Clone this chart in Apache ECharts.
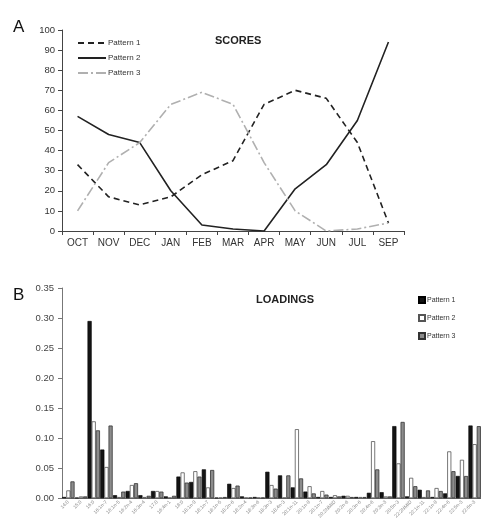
<!DOCTYPE html>
<html><head><meta charset="utf-8">
<script src="https://cdn.jsdelivr.net/npm/echarts@6/dist/echarts.min.js"></script>
<style>html,body{margin:0;padding:0;background:#fff}#c{width:481px;height:521px}</style>
</head><body><div id="c"></div>
<script>
const months = ['OCT','NOV','DEC','JAN','FEB','MAR','APR','MAY','JUN','JUL','SEP'];
const score1 = [33,17,13,17,28,35,63,70,66,44,4];
const score2 = [57,48,44,20,3,1,0,21,33,55,94];
const score3 = [10,34,44,63,69,63,34,10,0,1,4];

const acids = ['14:0','15:0','16:0','16:1n-7','16:1n-5','16:2n-4','16:3n-4','17:0','16:4n-1','18:0','18:1n-9','18:1n-7','18:1n-5','18:2n-6','18:2n-4','18:3n-6','18:3n-3','18:4n-3','20:1n-11','20:1n-9','20:1n-7','20:2NMID','20:2n-6','20:3n-6','20:4n-6','20:3n-3','20:5n-3','22:2NMID','22:1n-11','22:1n-9','22:4n-6','22:5n-3','22:6n-3'];
const load1 = [0.002,0.001,0.295,0.081,0.005,0.012,0.005,0.012,0.003,0.036,0.027,0.048,0.001,0.024,0.003,0.002,0.044,0.038,0.018,0.011,0.002,0.002,0.004,0.002,0.009,0.010,0.120,0.003,0.014,0.002,0.008,0.037,0.121];
const load2 = [0.013,0.003,0.128,0.052,0.002,0.022,0.002,0.012,0.001,0.043,0.045,0.018,0.001,0.017,0.001,0.001,0.022,0.001,0.115,0.020,0.012,0.005,0.004,0.002,0.095,0.003,0.058,0.034,0.002,0.017,0.078,0.064,0.090];
const load3 = [0.028,0.003,0.113,0.121,0.011,0.025,0.004,0.011,0.004,0.026,0.036,0.047,0.002,0.021,0.001,0.001,0.016,0.038,0.033,0.008,0.006,0.003,0.002,0.002,0.048,0.003,0.127,0.020,0.013,0.012,0.045,0.037,0.120];

const chart = echarts.init(document.getElementById('c'));
const FF = 'Liberation Sans, Arial, sans-serif';
const axisTxt = {color:'#333', fontFamily:FF};
chart.setOption({
  animation:false,
  textStyle:{fontFamily:FF},
  title:[
    {text:'A', left:8, top:14, textStyle:{fontSize:17, fontWeight:'normal', color:'#111', fontFamily:FF}},
    {text:'SCORES', left:210, top:30, textStyle:{fontSize:11, fontWeight:'bold', color:'#222', fontFamily:FF}},
    {text:'B', left:8, top:282, textStyle:{fontSize:17, fontWeight:'normal', color:'#111', fontFamily:FF}},
    {text:'LOADINGS', left:251, top:289, textStyle:{fontSize:11, fontWeight:'bold', color:'#222', fontFamily:FF}}
  ],
  legend:[
    {data:['Pattern 1','Pattern 2','Pattern 3'], orient:'vertical', left:72, top:34, itemWidth:28, itemHeight:8, itemGap:7,
     itemStyle:{opacity:0},
     textStyle:{fontSize:8, color:'#333', fontFamily:FF, padding:[0,0,0,-3]}},
    {data:['Pattern 1 ','Pattern 2 ','Pattern 3 '], orient:'vertical', left:413, top:291, itemWidth:6, itemHeight:6, itemGap:10, icon:'rect',
     textStyle:{fontSize:7, color:'#333', fontFamily:FF, padding:[0,0,0,-3]}}
  ],
  grid:[
    {left:62, right:77, top:30, height:201},
    {left:62, right:-1, top:288, height:214}
  ],
  xAxis:[
    {gridIndex:0, type:'category', data:months, boundaryGap:true,
     axisLine:{lineStyle:{color:'#444', width:1}}, axisTick:{show:true, length:4, lineStyle:{color:'#444'}},
     axisLabel:Object.assign({fontSize:10, margin:7, interval:0}, axisTxt)},
    {gridIndex:1, type:'category', data:acids, boundaryGap:true,
     axisLine:{lineStyle:{color:'#666', width:1}}, axisTick:{show:false},
     axisLabel:{fontSize:5, rotate:45, interval:0, margin:3, color:'#888', fontFamily:FF}}
  ],
  yAxis:[
    {gridIndex:0, type:'value', min:0, max:100, interval:10,
     axisLine:{show:true, lineStyle:{color:'#444'}}, axisTick:{show:true, length:4, lineStyle:{color:'#444'}},
     splitLine:{show:false}, axisLabel:Object.assign({fontSize:9.5, margin:7}, axisTxt)},
    {gridIndex:1, type:'value', min:0, max:0.35, interval:0.05,
     axisLine:{show:true, lineStyle:{color:'#777'}}, axisTick:{show:true, length:4, lineStyle:{color:'#777'}},
     splitLine:{show:false}, axisLabel:{fontSize:9.5, margin:8, color:'#444', fontFamily:FF, formatter:v=>v.toFixed(2)}}
  ],
  series:[
    {name:'Pattern 1', type:'line', xAxisIndex:0, yAxisIndex:0, data:score1, symbol:'none',
     lineStyle:{color:'#222', width:1.6, type:[6,4]}, itemStyle:{color:'#222'}},
    {name:'Pattern 2', type:'line', xAxisIndex:0, yAxisIndex:0, data:score2, symbol:'none',
     lineStyle:{color:'#222', width:1.6, type:'solid'}, itemStyle:{color:'#222'}},
    {name:'Pattern 3', type:'line', xAxisIndex:0, yAxisIndex:0, data:score3, symbol:'none',
     lineStyle:{color:'#b0b0b0', width:1.6, type:[10,3,2,3]}, itemStyle:{color:'#b0b0b0'}},
    {name:'Pattern 1 ', type:'bar', xAxisIndex:1, yAxisIndex:1, data:load1, barGap:'0%', barCategoryGap:'2%',
     itemStyle:{color:'#141414', borderColor:'#000', borderWidth:0.6}},
    {name:'Pattern 2 ', type:'bar', xAxisIndex:1, yAxisIndex:1, data:load2, barGap:'0%', barCategoryGap:'2%',
     itemStyle:{color:'#ffffff', borderColor:'#555', borderWidth:0.8}},
    {name:'Pattern 3 ', type:'bar', xAxisIndex:1, yAxisIndex:1, data:load3, barGap:'0%', barCategoryGap:'2%',
     itemStyle:{color:'#8c8c8c', borderColor:'#333', borderWidth:0.8}}
  ]
});
</script></body></html>
